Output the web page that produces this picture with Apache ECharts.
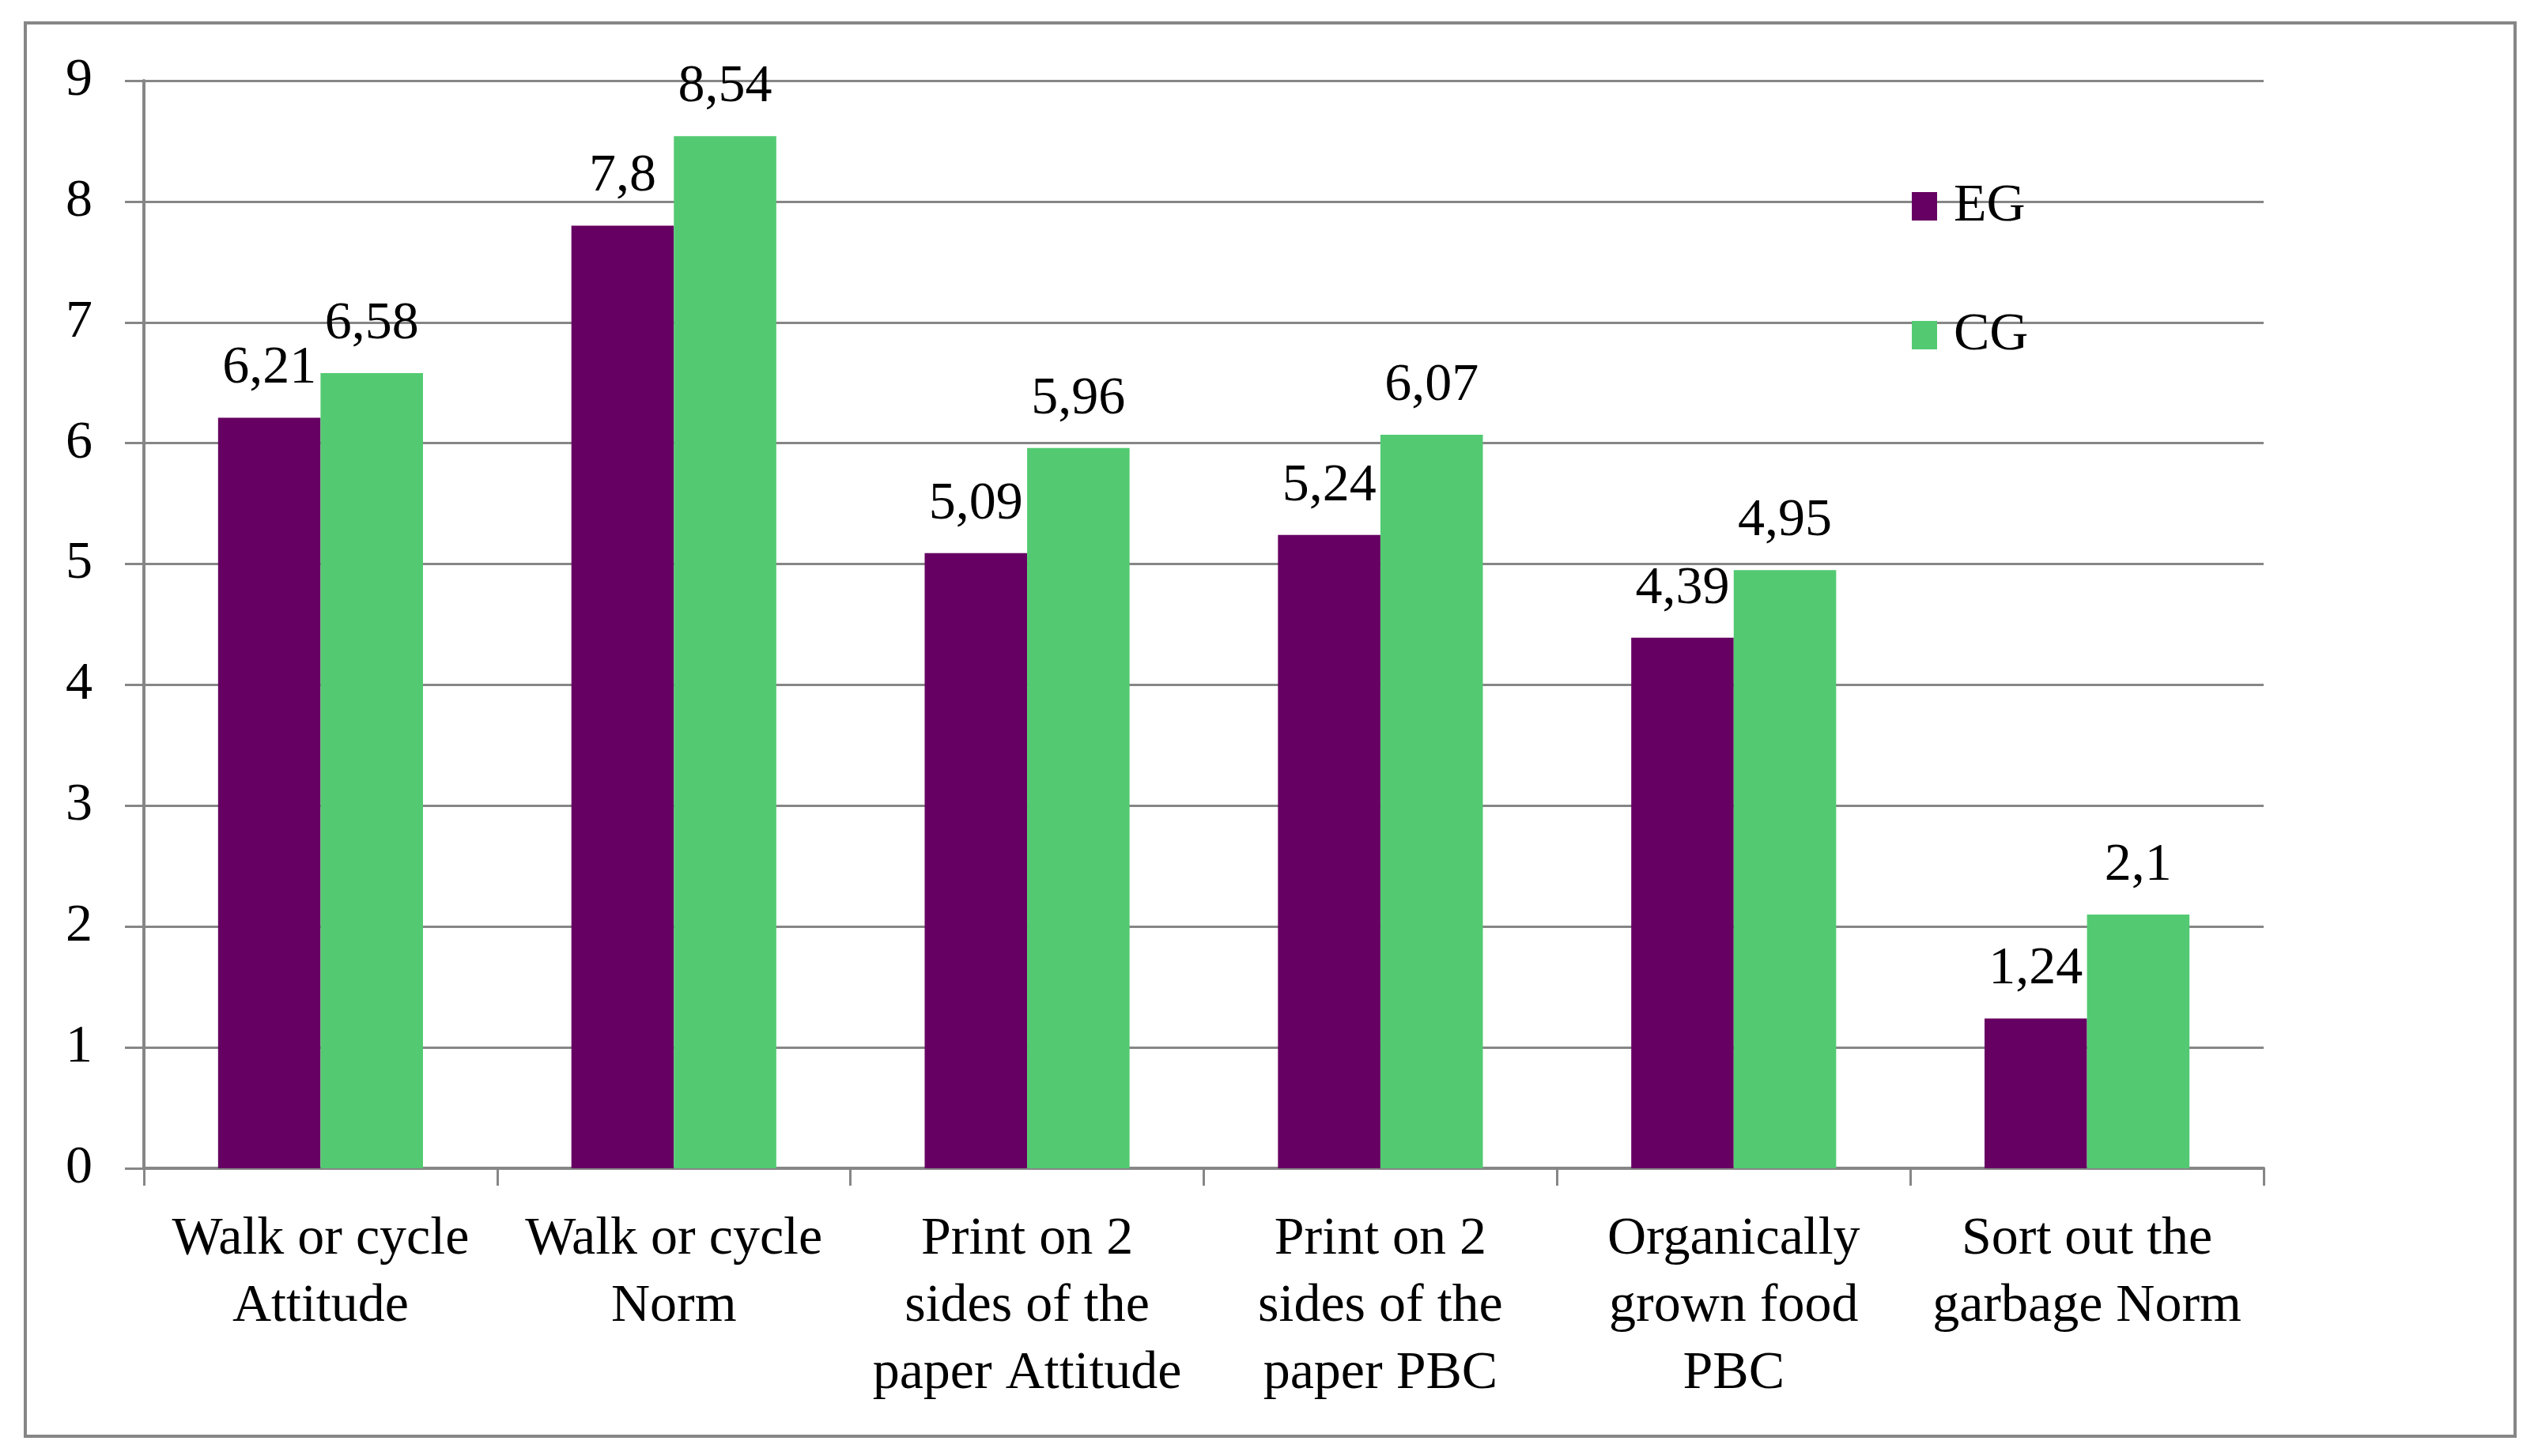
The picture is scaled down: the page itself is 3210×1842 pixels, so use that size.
<!DOCTYPE html>
<html>
<head>
<meta charset="utf-8">
<script src="https://cdn.jsdelivr.net/npm/echarts@6/dist/echarts.min.js"></script>
<style>
html,body{margin:0;padding:0;background:#fff;}
#chart{width:3210px;height:1842px;}
</style>
</head>
<body>
<div id="chart"></div>
<script>
const categories = [
  "Walk or cycle\nAttitude",
  "Walk or cycle\nNorm",
  "Print on 2\nsides of the\npaper Attitude",
  "Print on 2\nsides of the\npaper PBC",
  "Organically\ngrown food\nPBC",
  "Sort out the\ngarbage Norm"
];
const egValues = [6.21, 7.8, 5.09, 5.24, 4.39, 1.24];
const cgValues = [6.58, 8.54, 5.96, 6.07, 4.95, 2.1];
const seriesNames = ["EG", "CG"];

const FONT = "Liberation Serif";
const GRAY = "#868686";
const chart = echarts.init(document.getElementById('chart'));
const labelFmt = p => String(p.value).replace('.', ',');

chart.setOption({
  animation: false,
  backgroundColor: '#fff',
  textStyle: { fontFamily: FONT },
  graphic: [{
    type: 'rect',
    shape: { x: 32, y: 29, width: 3149, height: 1788 },
    style: { fill: 'none', stroke: GRAY, lineWidth: 4 },
    z: -1
  }],
  grid: { left: 182, right: 347, top: 102, bottom: 364, containLabel: false },
  legend: {
    orient: 'vertical',
    left: 2418,
    top: 227,
    padding: 0,
    itemGap: 95,
    itemWidth: 32,
    itemHeight: 36,
    icon: 'rect',
    data: seriesNames,
    textStyle: { fontFamily: FONT, fontSize: 68, color: '#000', padding: [0, 0, 0, 16] }
  },
  xAxis: {
    type: 'category',
    data: categories,
    axisLine: { lineStyle: { color: GRAY, width: 4 } },
    axisTick: { show: true, length: 22, lineStyle: { color: GRAY, width: 3 }, alignWithLabel: false },
    axisLabel: { interval: 0, margin: 48, fontFamily: FONT, fontSize: 68, lineHeight: 85, color: '#000', align: 'center' }
  },
  yAxis: {
    type: 'value',
    min: 0, max: 9, interval: 1,
    axisLine: { show: true, lineStyle: { color: GRAY, width: 4 } },
    axisTick: { show: true, length: 24, lineStyle: { color: GRAY, width: 3 } },
    axisLabel: { margin: 65, fontFamily: FONT, fontSize: 68, color: '#000' },
    splitLine: { show: true, lineStyle: { color: GRAY, width: 3 } }
  },
  series: [
    {
      name: seriesNames[0], type: 'bar', data: egValues,
      barGap: '0%', barCategoryGap: '42%',
      itemStyle: { color: '#660062' },
      label: { show: true, position: 'top', distance: 28, formatter: labelFmt, fontFamily: FONT, fontSize: 68, color: '#000' },
      z: 3
    },
    {
      name: seriesNames[1], type: 'bar', data: cgValues,
      barGap: '0%', barCategoryGap: '42%',
      itemStyle: { color: '#53CA72' },
      label: { show: true, position: 'top', distance: 28, formatter: labelFmt, fontFamily: FONT, fontSize: 68, color: '#000' },
      z: 3
    }
  ]
});
</script>
</body>
</html>
